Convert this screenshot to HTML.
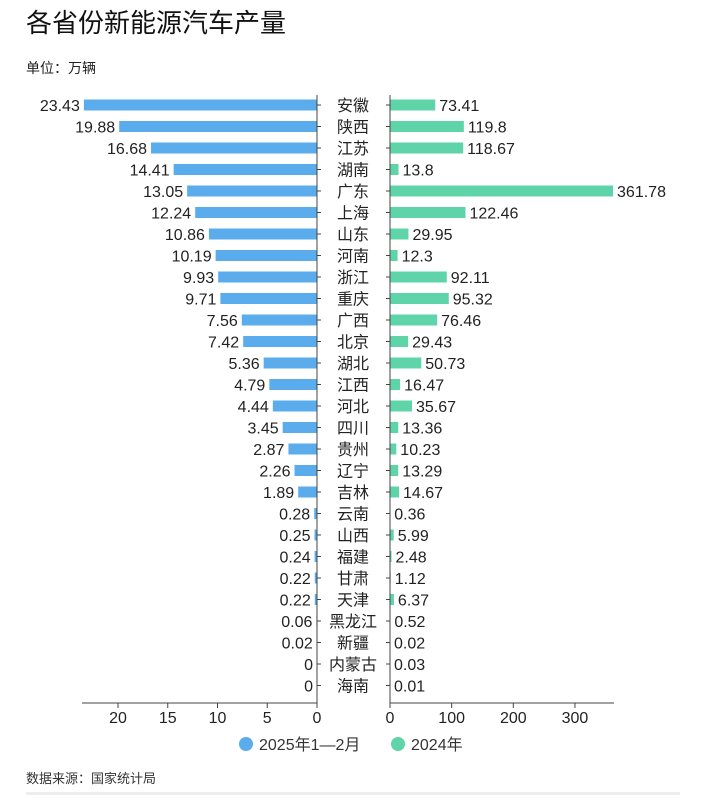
<!DOCTYPE html>
<html><head><meta charset="utf-8"><style>
body{margin:0;background:#fff;width:702px;height:795px;overflow:hidden;font-family:"Liberation Sans","Noto Sans CJK SC",sans-serif;}
</style></head><body>
<svg width="702" height="795" xmlns="http://www.w3.org/2000/svg" font-family="Liberation Sans, Noto Sans CJK SC, sans-serif">
<text x="26" y="32" font-size="26" fill="#111">各省份新能源汽车产量</text>
<text x="26" y="73" font-size="14" fill="#222">单位：万辆</text>
<g id="plot"></g>
<g>
<circle cx="246" cy="744" r="7" fill="#5aacec"/>
<text x="259" y="750" font-size="16" fill="#333">2025年1—2月</text>
<circle cx="398" cy="744" r="7" fill="#5fd4a8"/>
<text x="411" y="750" font-size="16" fill="#333">2024年</text>
</g>
<text x="26" y="783" font-size="13" fill="#333">数据来源：国家统计局</text>
<rect x="26" y="792" width="654" height="3" fill="#eee"/>
</svg>
<script>
const provinces=["安徽","陕西","江苏","湖南","广东","上海","山东","河南","浙江","重庆","广西","北京","湖北","江西","河北","四川","贵州","辽宁","吉林","云南","山西","福建","甘肃","天津","黑龙江","新疆","内蒙古","海南"];
const v2025=[23.43,19.88,16.68,14.41,13.05,12.24,10.86,10.19,9.93,9.71,7.56,7.42,5.36,4.79,4.44,3.45,2.87,2.26,1.89,0.28,0.25,0.24,0.22,0.22,0.06,0.02,0,0];
const v2024=[73.41,119.8,118.67,13.8,361.78,122.46,29.95,12.3,92.11,95.32,76.46,29.43,50.73,16.47,35.67,13.36,10.23,13.29,14.67,0.36,5.99,2.48,1.12,6.37,0.52,0.02,0.03,0.01];
const leftTicks=[0,5,10,15,20];
const rightTicks=[0,100,200,300];
const NS="http://www.w3.org/2000/svg";
const g=document.getElementById('plot');
const lx0=317,ls=9.95,rx0=390,rs=0.6165,y0=105,step=21.5,bh=11,axY=703;
const xl=v=>lx0-v*ls, xr=v=>rx0+v*rs, yc=i=>y0+i*step;
function el(t,a){const e=document.createElementNS(NS,t);for(const k in a)e.setAttribute(k,a[k]);g.appendChild(e);return e;}
provinces.forEach((p,i)=>{
 const y=yc(i);
 const b1=el('rect',{x:xl(v2025[i]),y:y-bh/2,width:lx0-xl(v2025[i]),height:bh,fill:'#5aacec'});
 
 
 const b2=el('rect',{x:rx0,y:y-bh/2,width:xr(v2024[i])-rx0,height:bh,fill:'#5fd4a8'});
 
 
 const t1=el('text',{x:xl(v2025[i])-4,y:y+6,'font-size':16,fill:'#222','text-anchor':'end'});t1.textContent=v2025[i];
 
 
 const t2=el('text',{x:xr(v2024[i])+4,y:y+6,'font-size':16,fill:'#222'});t2.textContent=v2024[i];
 
 
 const c=el('text',{x:353,y:y+6,'font-size':16,fill:'#222','text-anchor':'middle'});c.textContent=p;
 
 
 el('line',{x1:lx0,x2:lx0+4,y1:y,y2:y,stroke:'#444'});
 el('line',{x1:rx0-4,x2:rx0,y1:y,y2:y,stroke:'#444'});
});
el('line',{x1:lx0,x2:lx0,y1:95,y2:axY,stroke:'#444'});
el('line',{x1:rx0,x2:rx0,y1:95,y2:axY,stroke:'#444'});
el('line',{x1:82,x2:lx0,y1:axY,y2:axY,stroke:'#444'});
el('line',{x1:rx0,x2:614,y1:axY,y2:axY,stroke:'#444'});
leftTicks.forEach(t=>{el('line',{x1:xl(t),x2:xl(t),y1:axY,y2:axY+5,stroke:'#444'});
 const e=el('text',{x:xl(t),y:723,'font-size':16,fill:'#222','text-anchor':'middle'});e.textContent=t;
 
 });
rightTicks.forEach(t=>{el('line',{x1:xr(t),x2:xr(t),y1:axY,y2:axY+5,stroke:'#444'});
 const e=el('text',{x:xr(t),y:723,'font-size':16,fill:'#222','text-anchor':'middle'});e.textContent=t;
 
 });
</script>
</body></html>
